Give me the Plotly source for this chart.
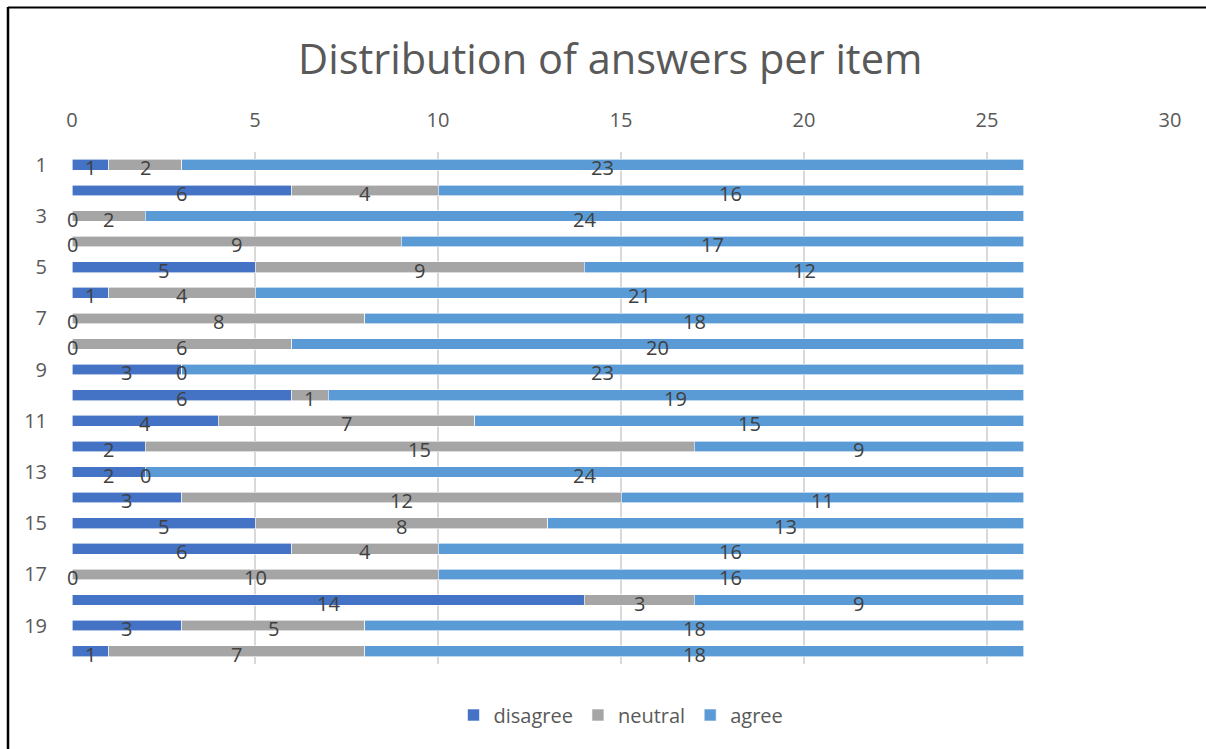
import plotly.graph_objects as go

items = [str(i) for i in range(1, 21)]
disagree = [1, 6, 0, 0, 5, 1, 0, 0, 3, 6, 4, 2, 2, 3, 5, 6, 0, 14, 3, 1]
neutral = [2, 4, 2, 9, 9, 4, 8, 6, 0, 1, 7, 15, 0, 12, 8, 4, 10, 3, 5, 7]
agree = [23, 16, 24, 17, 12, 21, 18, 20, 23, 19, 15, 9, 24, 11, 13, 16, 16, 9, 18, 18]
series_names = ["disagree", "neutral", "agree"]
colors = ["#4472C4", "#A5A5A5", "#5B9BD5"]
x_ticks = [0, 5, 10, 15, 20, 25, 30]
y_ticks = [str(i) for i in range(1, 21, 2)]

FONT = "Open Sans"
fig = go.Figure()
series = [disagree, neutral, agree]
for name, vals, col in zip(series_names, series, colors):
    fig.add_trace(go.Bar(
        y=items, x=vals, name=name, orientation="h",
        marker=dict(color=col, line=dict(color="white", width=0.6)),
        width=0.42,
    ))

annotations = []
for i, it in enumerate(items):
    base = 0
    for vals in series:
        v = vals[i]
        annotations.append(dict(
            x=base + v / 2, y=i, xref="x", yref="y", text=str(v),
            showarrow=False, yshift=-3,
            font=dict(family=FONT, size=20, color="#404040"),
        ))
        base += v

fig.update_layout(
    barmode="stack",
    width=1206, height=749,
    margin=dict(l=72, r=36, t=152, b=85, autoexpand=False),
    paper_bgcolor="white", plot_bgcolor="white",
    title=dict(text="Distribution of answers per item", x=0.506, xanchor="center",
               y=0.92, yanchor="middle",
               font=dict(family=FONT, size=41.5, color="#595959")),
    xaxis=dict(side="top", range=[0, 30], tickvals=x_ticks, showgrid=True,
               gridcolor="#D9D9D9", gridwidth=2, zeroline=False, showline=False,
               ticks="outside", ticklen=16, tickcolor="rgba(0,0,0,0)",
               tickfont=dict(family=FONT, size=20, color="#595959")),
    yaxis=dict(type="category", range=[len(items) - 0.5, -0.5], tickvals=y_ticks,
               showgrid=False, zeroline=False, showline=False,
               ticks="outside", ticklen=20, tickcolor="rgba(0,0,0,0)",
               tickfont=dict(family=FONT, size=20, color="#595959")),
    legend=dict(orientation="h", x=0.5, xanchor="center", yref="container",
                y=1 - 715 / 749, yanchor="middle",
                font=dict(family=FONT, size=20, color="#595959"),
                itemwidth=30, traceorder="normal"),
    annotations=annotations,
    showlegend=True,
    shapes=[
        dict(type="line", xref="paper", yref="paper", x0=(8 - 72) / 1098, x1=(8 - 72) / 1098,
             y0=(664 - 7) / 512, y1=(664 - 760) / 512, line=dict(color="black", width=2.5)),
        dict(type="line", xref="paper", yref="paper", x0=(8 - 72) / 1098, x1=(1220 - 72) / 1098,
             y0=(664 - 7.5) / 512, y1=(664 - 7.5) / 512, line=dict(color="black", width=2)),
    ],
)
fig.write_html("out.html", config={"displayModeBar": False})
